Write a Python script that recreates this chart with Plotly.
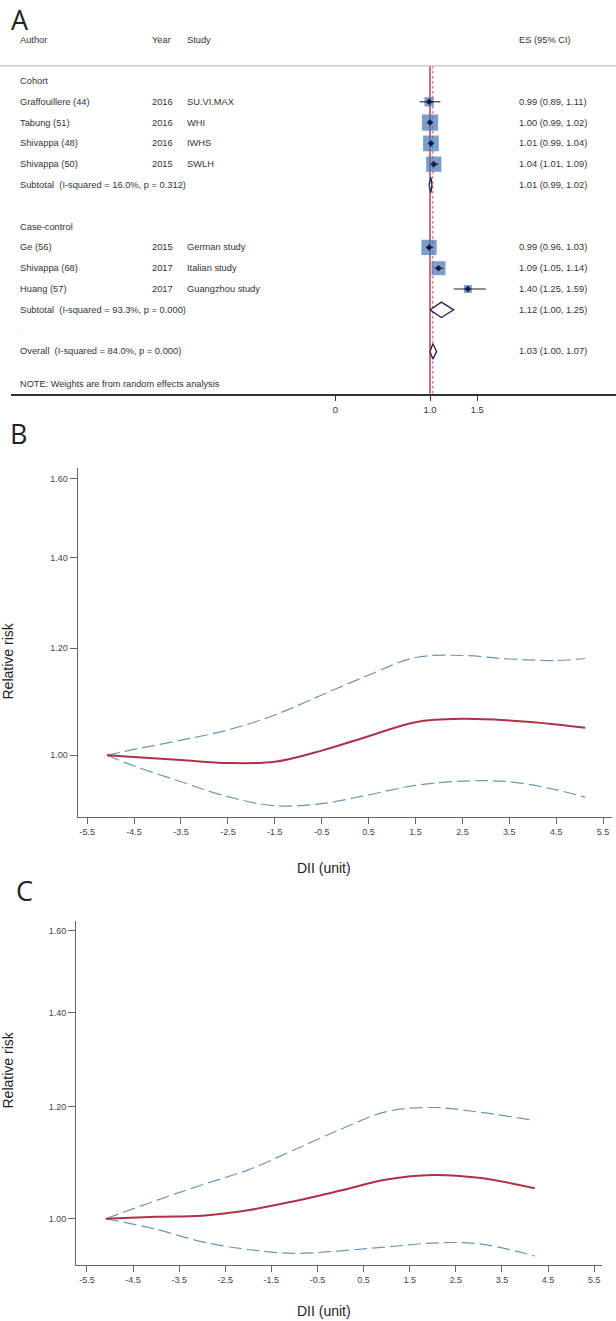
import math
import plotly.graph_objects as go

# ---------------- Panel A : forest plot data ----------------
groups = ["Cohort", "Cohort", "Cohort", "Cohort", "Case-control", "Case-control", "Case-control"]
authors = ["Graffouillere (44)", "Tabung (51)", "Shivappa (48)", "Shivappa (50)",
           "Ge (56)", "Shivappa (68)", "Huang (57)"]
years = ["2016", "2016", "2016", "2015", "2015", "2017", "2017"]
studies = ["SU.VI.MAX", "WHI", "IWHS", "SWLH", "German study", "Italian study", "Guangzhou study"]
es = [0.99, 1.00, 1.01, 1.04, 0.99, 1.09, 1.40]
es_lo = [0.89, 0.99, 0.99, 1.01, 0.96, 1.05, 1.25]
es_hi = [1.11, 1.02, 1.04, 1.09, 1.03, 1.14, 1.59]
weights = [6.5, 20.1, 18.6, 17.6, 17.6, 14.8, 4.8]

group_names = ["Cohort", "Case-control"]
sub_es = [1.01, 1.12]
sub_lo = [0.99, 1.00]
sub_hi = [1.02, 1.25]
sub_i2 = ["16.0%", "93.3%"]
sub_p = ["0.312", "0.000"]

overall_es, overall_lo, overall_hi = 1.03, 1.00, 1.07
overall_i2, overall_p = "84.0%", "0.000"

forest_ticks = [0, 1.0, 1.5]
forest_ticktext = ["0", "1.0", "1.5"]

# ---------------- Panel B : dose-response ----------------
dii_b = [-5.08, -4.5, -3.5, -2.5, -1.5, -0.5, 0.5, 1.5, 2.5, 3.5, 4.5, 5.12]
rr_b = [1.000, 0.997, 0.992, 0.987, 0.989, 1.008, 1.033, 1.058, 1.064, 1.061, 1.054, 1.048]
lo_b = [1.000, 0.982, 0.956, 0.932, 0.918, 0.921, 0.935, 0.950, 0.957, 0.956, 0.943, 0.931]
hi_b = [1.000, 1.010, 1.026, 1.044, 1.071, 1.108, 1.146, 1.181, 1.185, 1.178, 1.175, 1.179]

# ---------------- Panel C : dose-response ----------------
dii_c = [-5.09, -4.0, -3.0, -2.0, -1.0, 0.0, 1.0, 2.0, 3.0, 4.21]
rr_c = [1.000, 1.003, 1.005, 1.014, 1.029, 1.047, 1.066, 1.074, 1.069, 1.051]
lo_c = [1.000, 0.983, 0.963, 0.951, 0.945, 0.949, 0.955, 0.961, 0.960, 0.941]
hi_c = [1.000, 1.030, 1.057, 1.083, 1.119, 1.157, 1.191, 1.199, 1.190, 1.174]

rr_ticks = [1.00, 1.20, 1.40, 1.60]
dii_ticks = [-5.5, -4.5, -3.5, -2.5, -1.5, -0.5, 0.5, 1.5, 2.5, 3.5, 4.5, 5.5]

# ---------------- layout helpers ----------------
W, H = 616, 1321
FONT = "Liberation Sans, Arial, sans-serif"
LETTER_FONT = "Open Sans, Noto Sans, sans-serif"
TXT = "#333333"
AX = "#666666"
SQ = "#4176b8"
DIA = "#2a2a5e"
RED = "#b03048"
BLUE = "#6e95b4"


def fy(px):
    return 1 - px / H


def fx(px):
    return px / W


ROW0, STEP = 81.0, 20.8  # pixel centre of first row and row spacing


def row_of_px(px):
    return (px - ROW0) / STEP


fig = go.Figure()
ann = []

# ----- build forest rows -----
study_rows, sub_rows, header_rows = [], [], []
r = 0
for g in group_names:
    header_rows.append(r)
    r += 1
    for gg in groups:
        if gg == g:
            study_rows.append(r)
            r += 1
    sub_rows.append(r)
    r += 2
dot_row = sub_rows[-1] + 1
overall_row = dot_row + 1
note_row = row_of_px(384.3)
head_row = row_of_px(40)
top_line_row = row_of_px(65.7)
bottom_row = row_of_px(393.7)

COL_AUTHOR, COL_YEAR, COL_STUDY, COL_ES = fx(17.5), fx(149.5), fx(185), fx(517)
fs = 9.3


def add_text(x, yrow, text, size=fs):
    ann.append(dict(x=x, y=yrow, xref="paper", yref="y", text=text, showarrow=False,
                    xanchor="left", yanchor="middle", font=dict(family=FONT, size=size, color=TXT)))


add_text(COL_AUTHOR, head_row, "Author")
add_text(COL_YEAR, head_row, "Year")
add_text(COL_STUDY, head_row, "Study")
add_text(COL_ES, head_row, "ES (95% CI)")

for gi, g in enumerate(group_names):
    add_text(COL_AUTHOR, header_rows[gi], g)
for i in range(len(authors)):
    rr = study_rows[i]
    add_text(COL_AUTHOR, rr, authors[i])
    add_text(COL_YEAR, rr, years[i])
    add_text(COL_STUDY, rr, studies[i])
    add_text(COL_ES, rr, f"{es[i]:.2f} ({es_lo[i]:.2f}, {es_hi[i]:.2f})")
for gi in range(len(group_names)):
    add_text(COL_AUTHOR, sub_rows[gi],
             f"Subtotal\u00a0 (I-squared = {sub_i2[gi]}, p = {sub_p[gi]})")
    add_text(COL_ES, sub_rows[gi], f"{sub_es[gi]:.2f} ({sub_lo[gi]:.2f}, {sub_hi[gi]:.2f})")
add_text(COL_AUTHOR, dot_row, ".", size=6)
add_text(COL_AUTHOR, overall_row, f"Overall\u00a0 (I-squared = {overall_i2}, p = {overall_p})")
add_text(COL_ES, overall_row, f"{overall_es:.2f} ({overall_lo:.2f}, {overall_hi:.2f})")
add_text(COL_AUTHOR, note_row, "NOTE: Weights are from random effects analysis", size=9.2)

# reference lines
fig.add_trace(go.Scatter(x=[1.0, 1.0], y=[top_line_row, bottom_row], mode="lines",
                         line=dict(color=RED, width=1.4), xaxis="x", yaxis="y", hoverinfo="skip"))
fig.add_trace(go.Scatter(x=[overall_es, overall_es], y=[top_line_row, bottom_row], mode="lines",
                         line=dict(color="#c9607a", width=1.1, dash="3px,2px"), xaxis="x", yaxis="y",
                         hoverinfo="skip"))

# squares (area proportional to weight)
fig.add_trace(go.Scatter(x=es, y=study_rows, mode="markers",
                         marker=dict(symbol="square", size=[3.64 * w ** 0.5 for w in weights],
                                     color=SQ, line=dict(width=0)),
                         xaxis="x", yaxis="y", hoverinfo="skip"))
# CI lines
cx, cy = [], []
for i in range(len(es)):
    cx += [es_lo[i], es_hi[i], None]
    cy += [study_rows[i], study_rows[i], None]
fig.add_trace(go.Scatter(x=cx, y=cy, mode="lines", line=dict(color="#222222", width=1.1),
                         xaxis="x", yaxis="y", hoverinfo="skip"))
# point estimates
fig.add_trace(go.Scatter(x=es, y=study_rows, mode="markers",
                         marker=dict(symbol="diamond", size=5, color="#1a1a3a"),
                         xaxis="x", yaxis="y", hoverinfo="skip"))

# pooled diamonds
HD = 0.37
dias = [(sub_lo[i], sub_es[i], sub_hi[i], sub_rows[i]) for i in range(len(sub_es))]
dias.append((overall_lo, overall_es, overall_hi, overall_row))
for lo, e, hi, rr in dias:
    fig.add_trace(go.Scatter(x=[lo, e, hi, e, lo], y=[rr, rr - HD, rr, rr + HD, rr],
                             mode="lines", fill="toself", fillcolor="white",
                             line=dict(color=DIA, width=1.4), xaxis="x", yaxis="y",
                             hoverinfo="skip"))

# ----- Panel B -----
for ys, col, dash, wdt in [(hi_b, BLUE, "13px,5px", 1.2), (lo_b, BLUE, "13px,5px", 1.2),
                           (rr_b, RED, "solid", 2.0)]:
    fig.add_trace(go.Scatter(x=dii_b, y=ys, mode="lines",
                             line=dict(color=col, width=wdt, dash=dash, shape="spline", smoothing=1.0),
                             xaxis="x2", yaxis="y2", hoverinfo="skip"))

# ----- Panel C -----
for ys, col, dash, wdt in [(hi_c, BLUE, "13px,5px", 1.2), (lo_c, BLUE, "13px,5px", 1.2),
                           (rr_c, RED, "solid", 2.0)]:
    fig.add_trace(go.Scatter(x=dii_c, y=ys, mode="lines",
                             line=dict(color=col, width=wdt, dash=dash, shape="spline", smoothing=1.0),
                             xaxis="x3", yaxis="y3", hoverinfo="skip"))

# ----- axes -----
FX0, FPX1, FSC = 11.0, 430.0, 94.6  # forest axis left px, px of 1.0, px per unit
forest_range = [1 + (FX0 - FPX1) / FSC, 1 + (W - FPX1) / FSC]

tickfont = dict(family=FONT, size=9, color="#444444")

common_x = dict(showgrid=False, zeroline=False, showline=True, ticks="outside", ticklen=6,
                tickcolor=AX, linecolor=AX, linewidth=1.3, tickwidth=1.2, tickfont=tickfont,
                fixedrange=True)


def log_range(px_top, px_bottom, px_one, px_per_ln):
    top = (px_one - px_top) / px_per_ln / math.log(10)
    bot = (px_one - px_bottom) / px_per_ln / math.log(10)
    return [bot, top]


fig.update_layout(
    width=W, height=H, autosize=False,
    margin=dict(l=0, r=0, t=0, b=0),
    paper_bgcolor="white", plot_bgcolor="white",
    showlegend=False,
    xaxis=dict(domain=[fx(FX0), 1], range=forest_range, anchor="y",
               tickvals=forest_ticks, ticktext=forest_ticktext,
               **{**common_x, "linecolor": "#333333", "tickcolor": "#333333", "linewidth": 1.5,
                  "tickfont": dict(family=FONT, size=9.3, color=TXT)}),
    yaxis=dict(domain=[fy(393.7), 1], range=[row_of_px(393.7), row_of_px(0)], visible=False,
               fixedrange=True),
    xaxis2=dict(domain=[fx(77.8), fx(611.8)], range=[-5.70, 5.686], anchor="y2",
                tickvals=dii_ticks, ticktext=[f"{v:.1f}" for v in dii_ticks], **common_x),
    yaxis2=dict(domain=[fy(817), fy(468)], type="log", range=log_range(468, 817, 755.3, 587.9),
                anchor="x2", tickvals=rr_ticks, ticktext=[f"{v:.2f}" for v in rr_ticks],
                **{**common_x, "ticklen": 7}),
    xaxis3=dict(domain=[fx(76.3), fx(602)], range=[-5.73, 5.67], anchor="y3",
                tickvals=dii_ticks, ticktext=[f"{v:.1f}" for v in dii_ticks], **common_x),
    yaxis3=dict(domain=[fy(1265.3), fy(921)], type="log", range=log_range(921, 1265.3, 1218.7, 612.8),
                anchor="x3", tickvals=rr_ticks, ticktext=[f"{v:.2f}" for v in rr_ticks],
                **{**common_x, "ticklen": 7}),
)

# gray header rule
fig.add_shape(type="line", xref="paper", yref="y", x0=0, x1=1, y0=top_line_row, y1=top_line_row,
              line=dict(color="#cccccc", width=1.6))

# axis titles
title_font = dict(family=FONT, size=14, color="#222222")
for (x, y, t, ang, ya) in [(7.5, 661, "Relative risk", -90, "middle"),
                           (324, 868, "DII (unit)", 0, "middle"),
                           (7.5, 1070, "Relative risk", -90, "middle"),
                           (324, 1321, "DII (unit)", 0, "bottom")]:
    ann.append(dict(x=fx(x), y=fy(y), xref="paper", yref="paper", text=t, showarrow=False,
                    xanchor="center", yanchor=ya, textangle=ang, font=title_font))

# panel letters
letter_font = dict(family=LETTER_FONT, size=27, color="#222222")
ann.append(dict(x=fx(9), y=1, xref="paper", yref="paper", text="A", showarrow=False,
                xanchor="left", yanchor="top", height=34, valign="middle", font=letter_font))
for (x, y, t) in [(8, 434, "B"), (14, 890, "C")]:
    ann.append(dict(x=fx(x), y=fy(y), xref="paper", yref="paper", text=t, showarrow=False,
                    xanchor="left", yanchor="middle", font=letter_font))

fig.update_layout(annotations=ann)
fig.write_html("out.html", config={"displayModeBar": False},
               post_script="document.body.style.margin='0px';document.body.style.overflow='hidden';")
